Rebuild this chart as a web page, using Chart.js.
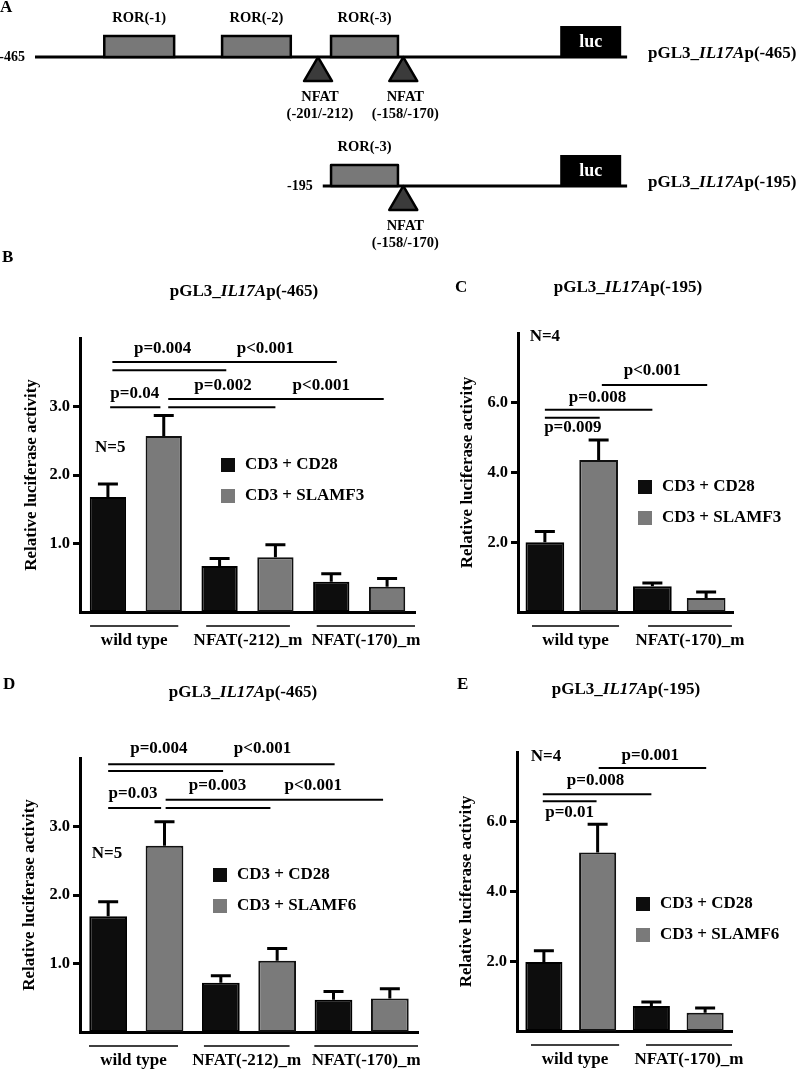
<!DOCTYPE html>
<html lang="en">
<head>
  <meta charset="UTF-8" />
  <title>IL17A promoter luciferase assays</title>
  <script src="https://cdn.jsdelivr.net/npm/chart.js"></script>
  <style>
    body { margin: 0; background: #fff; }
    #fig { position: relative; width: 800px; height: 1071px; overflow: hidden; background: #fff; }
    #fig canvas { position: absolute; }
  </style>
</head>
<body>
  <div id="fig">
    <canvas id="chartA" width="800" height="255" style="left:0;top:0"></canvas>
    <canvas id="chartB" width="420" height="420" style="left:0;top:250px"></canvas>
    <canvas id="chartC" width="380" height="420" style="left:420px;top:250px"></canvas>
    <canvas id="chartD" width="420" height="401" style="left:0;top:670px"></canvas>
    <canvas id="chartE" width="380" height="401" style="left:420px;top:670px"></canvas>
  </div>

  <script>
    // ---- panel A: promoter schematic (positions in schematic units, 0 = -465 end, 100 = vector end)
    const constructs = ["pGL3_IL17Ap(-465)", "pGL3_IL17Ap(-195)"];
    const constructStart = [0, 48.6];
    const constructStartLabel = ["-465", "-195"];
    const vectorEnd = 100;
    const rorNames = ["ROR(-1)", "ROR(-2)", "ROR(-3)"];
    const rorFrom = [11.7, 31.6, 50.0];
    const rorTo = [23.5, 43.2, 61.3];
    const nfatNames = ["(-201/-212)", "(-158/-170)"];
    const nfatAt = [47.8, 62.2];
    const lucFrom = 88.7, lucTo = 99;

    // ---- panels B-E: luciferase activity
    const groups465 = ["wild type", "NFAT(-212)_m", "NFAT(-170)_m"];
    const groups195 = ["wild type", "NFAT(-170)_m"];
    const namesF3 = ["CD3 + CD28", "CD3 + SLAMF3"];
    const namesF6 = ["CD3 + CD28", "CD3 + SLAMF6"];

    const bCd28 = [1.68, 0.67, 0.44];
    const bCd28Err = [1.87, 0.78, 0.56];
    const bSlamf3 = [2.57, 0.80, 0.37];
    const bSlamf3Err = [2.87, 0.98, 0.49];

    const cCd28 = [2.00, 0.74];
    const cCd28Err = [2.31, 0.83];
    const cSlamf3 = [4.36, 0.40];
    const cSlamf3Err = [4.93, 0.57];

    const dCd28 = [1.69, 0.72, 0.47];
    const dCd28Err = [1.90, 0.82, 0.59];
    const dSlamf6 = [2.72, 1.04, 0.49];
    const dSlamf6Err = [3.07, 1.22, 0.63];

    const eCd28 = [1.98, 0.72];
    const eCd28Err = [2.30, 0.83];
    const eSlamf6 = [5.12, 0.52];
    const eSlamf6Err = [5.93, 0.66];

    const ticks465 = [1, 2, 3];
    const ticks195 = [2, 4, 6];

    const SERIF = '"Liberation Serif", "Times New Roman", serif';
    const font = (ctx, size, italic) => { ctx.font = (italic ? 'italic ' : '') + 'bold ' + size + 'px ' + SERIF; };

    // "pGL3_IL17Ap(-465)" with the gene name in italics
    function drawConstruct(ctx, name, x, y, size, align) {
      const m = name.match(/^(pGL3_)(IL17A)(.*)$/);
      const parts = [[m[1], false], [m[2], true], [m[3], false]];
      let w = 0;
      parts.forEach(p => { font(ctx, size, p[1]); w += ctx.measureText(p[0]).width; });
      let cx = align === 'center' ? x - w / 2 : x;
      ctx.textAlign = 'left';
      ctx.textBaseline = 'middle';
      parts.forEach(p => {
        font(ctx, size, p[1]);
        ctx.fillText(p[0], cx, y);
        cx += ctx.measureText(p[0]).width;
      });
    }

    const schematic = {
      id: 'schematic',
      afterDatasetsDraw(chart) {
        const { ctx, scales: { x, y } } = chart;
        ctx.save();
        ctx.fillStyle = '#000';
        font(ctx, 17);
        ctx.textAlign = 'left';
        ctx.textBaseline = 'middle';
        ctx.fillText('A', 0, 8);

        constructs.forEach((name, r) => {
          const y0 = y.getPixelForValue(r);
          const x0 = x.getPixelForValue(constructStart[r]);
          const x1 = x.getPixelForValue(vectorEnd);

          ctx.fillStyle = '#000';
          font(ctx, 14);
          ctx.textAlign = 'right';
          ctx.fillText(constructStartLabel[r], x0 - 10, y0);

          rorNames.forEach((ror, i) => {
            if (rorFrom[i] < constructStart[r]) return;
            const a = x.getPixelForValue(rorFrom[i]);
            const b = x.getPixelForValue(rorTo[i]);
            ctx.fillStyle = '#787878';
            ctx.fillRect(a, y0 - 21, b - a, 21);
            ctx.strokeStyle = '#000';
            ctx.lineWidth = 2.5;
            ctx.strokeRect(a, y0 - 21, b - a, 21);
            ctx.fillStyle = '#000';
            font(ctx, 14.5);
            ctx.textAlign = 'center';
            ctx.fillText(ror, (a + b) / 2, y0 - 39);
          });

          nfatNames.forEach((nf, i) => {
            if (nfatAt[i] < constructStart[r]) return;
            const c = x.getPixelForValue(nfatAt[i]);
            ctx.beginPath();
            ctx.moveTo(c, y0);
            ctx.lineTo(c + 14, y0 + 24);
            ctx.lineTo(c - 14, y0 + 24);
            ctx.closePath();
            ctx.fillStyle = '#3b3b3b';
            ctx.fill();
            ctx.strokeStyle = '#000';
            ctx.lineWidth = 2.5;
            ctx.lineJoin = 'round';
            ctx.stroke();
            ctx.fillStyle = '#000';
            font(ctx, 14.5);
            ctx.textAlign = 'center';
            ctx.fillText('NFAT', c + 2, y0 + 40);
            ctx.fillText(nf, c + 2, y0 + 57);
          });

          const la = x.getPixelForValue(lucFrom);
          const lb = x.getPixelForValue(lucTo);
          ctx.fillStyle = '#000';
          ctx.fillRect(la, y0 - 31, lb - la, 32);
          ctx.fillStyle = '#fff';
          font(ctx, 18);
          ctx.textAlign = 'center';
          ctx.fillText('luc', (la + lb) / 2, y0 - 15);

          ctx.fillStyle = '#000';
          drawConstruct(ctx, name, x1 + 21, y0 - 3, 17, 'left');
        });
        ctx.restore();
      }
    };

    new Chart(document.getElementById('chartA'), {
      type: 'scatter',
      data: {
        datasets: constructs.map((c, r) => ({
          type: 'line',
          label: c,
          data: [{ x: constructStart[r], y: r }, { x: vectorEnd, y: r }],
          borderColor: '#000',
          borderWidth: 3,
          borderCapStyle: 'butt',
          pointRadius: 0,
          showLine: true
        }))
      },
      options: {
        responsive: false,
        animation: false,
        layout: { padding: 0 },
        plugins: { legend: { display: false }, tooltip: { enabled: false } },
        scales: {
          x: { type: 'linear', display: false, min: -5.91, max: 129.2 },
          y: { type: 'linear', display: false, reverse: true, min: -0.442, max: 1.535 }
        }
      },
      plugins: [schematic]
    });

    // overlay for the bar panels: error bars, brackets, legend, labels
    function overlay(o) {
      return {
        id: 'overlay',
        afterDatasetsDraw(chart) {
          const { ctx, scales: { x, y } } = chart;
          ctx.save();
          ctx.strokeStyle = '#000';
          ctx.lineWidth = 3;
          chart.data.datasets.forEach((ds, di) => {
            chart.getDatasetMeta(di).data.forEach((bar, j) => {
              const top = y.getPixelForValue(ds.err[j]);
              ctx.beginPath();
              ctx.moveTo(bar.x, bar.y);
              ctx.lineTo(bar.x, top);
              ctx.moveTo(bar.x - 10, top);
              ctx.lineTo(bar.x + 10, top);
              ctx.stroke();
            });
          });
          ctx.restore();
        },
        afterDraw(chart) {
          const { ctx, chartArea: area, scales: { x, y } } = chart;
          const c0 = x.getPixelForValue(0);
          const cw = x.getPixelForValue(1) - c0;
          const px = u => c0 + u * cw;
          ctx.save();
          ctx.fillStyle = '#000';
          ctx.strokeStyle = '#000';

          font(ctx, 17);
          ctx.textAlign = 'left';
          ctx.textBaseline = 'middle';
          ctx.fillText(o.letter, o.letterAt[0], o.letterAt[1]);
          drawConstruct(ctx, o.construct, o.titleAt[0], o.titleAt[1], 17, 'center');

          ctx.save();
          ctx.translate(o.yTitleX, (area.top + area.bottom) / 2);
          ctx.rotate(-Math.PI / 2);
          font(ctx, 17);
          ctx.textAlign = 'center';
          ctx.fillText('Relative luciferase activity', 0, 0);
          ctx.restore();

          // significance brackets: [x1, x2, y, label, labelX, labelY]
          ctx.lineWidth = 2;
          o.sig.forEach(s => {
            const yy = y.getPixelForValue(s[2]);
            ctx.beginPath();
            ctx.moveTo(px(s[0]), yy);
            ctx.lineTo(px(s[1]), yy);
            ctx.stroke();
            font(ctx, 17);
            ctx.textAlign = 'center';
            ctx.fillText(s[3], px(s[4]), y.getPixelForValue(s[5]));
          });

          font(ctx, 17);
          ctx.textAlign = 'center';
          ctx.fillText(o.n[0], px(o.n[1]), y.getPixelForValue(o.n[2]));

          // legend
          const [lx, ly] = o.legendAt;
          chart.data.datasets.forEach((ds, i) => {
            ctx.fillStyle = ds.backgroundColor;
            ctx.fillRect(lx, ly + i * 31, 14, 14);
            ctx.fillStyle = '#000';
            font(ctx, 17);
            ctx.textAlign = 'left';
            ctx.fillText(ds.label, lx + 24, ly + 7 + i * 31);
          });

          // group labels with overlines
          ctx.lineWidth = 1.5;
          chart.data.labels.forEach((g, i) => {
            const a = px(i + o.under[i][0]);
            const b = px(i + o.under[i][1]);
            ctx.beginPath();
            ctx.moveTo(a, area.bottom + 14);
            ctx.lineTo(b, area.bottom + 14);
            ctx.stroke();
            font(ctx, 17);
            ctx.textAlign = 'center';
            ctx.fillText(g, (a + b) / 2, area.bottom + 29);
          });
          ctx.restore();
        }
      };
    }

    function barPanel(id, o) {
      return new Chart(document.getElementById(id), {
        type: 'bar',
        data: {
          labels: o.groups,
          datasets: [
            { label: o.names[0], data: o.v1, err: o.e1, backgroundColor: '#0d0d0d', borderColor: '#000',
              borderWidth: 2, borderSkipped: false, barPercentage: o.bp, categoryPercentage: 1 },
            { label: o.names[1], data: o.v2, err: o.e2, backgroundColor: '#7a7a7a', borderColor: '#111',
              borderWidth: 2, borderSkipped: false, barPercentage: o.bp, categoryPercentage: 1 }
          ]
        },
        options: {
          responsive: false,
          animation: false,
          layout: { padding: { top: o.padTop, right: o.padRight, left: 0, bottom: 0 } },
          plugins: { legend: { display: false }, tooltip: { enabled: false } },
          scales: {
            x: {
              grid: { display: false },
              ticks: { display: false },
              border: { color: '#000', width: 3 },
              afterFit: s => { s.height = o.xh; }
            },
            y: {
              min: 0,
              max: o.ymax,
              afterBuildTicks: s => { s.ticks = o.ticks.map(v => ({ value: v })); },
              ticks: {
                callback: v => v.toFixed(1),
                color: '#000',
                padding: 3,
                font: { family: SERIF, weight: 'bold', size: 16.5 }
              },
              grid: { drawOnChartArea: false, color: '#000', lineWidth: 3, tickLength: 7 },
              border: { color: '#000', width: 3 },
              afterFit: s => { s.width = o.yw; }
            }
          }
        },
        plugins: [overlay(o)]
      });
    }

    barPanel('chartB', {
      letter: 'B', construct: constructs[0], groups: groups465, names: namesF3,
      v1: bCd28, e1: bCd28Err, v2: bSlamf3, e2: bSlamf3Err, ticks: ticks465, ymax: 4,
      sig: [
        [-0.21, 1.80, 3.65, 'p<0.001', 1.16, 3.84],
        [-0.21, 0.81, 3.53, 'p=0.004', 0.24, 3.84],
        [0.29, 2.22, 3.11, 'p<0.001', 1.66, 3.30],
        [0.29, 1.25, 2.99, 'p=0.002', 0.78, 3.30],
        [-0.23, 0.22, 2.99, 'p=0.04', -0.01, 3.19]
      ],
      n: ['N=5', -0.23, 2.4],
      under: [[-0.41, 0.38], [-0.37, 0.38], [-0.38, 0.5]],
      bp: 0.65, yw: 80, xh: 58, padTop: 88, padRight: 5,
      titleAt: [244, 42], letterAt: [2, 8], yTitleX: 32, legendAt: [221, 208]
    });

    barPanel('chartC', {
      letter: 'C', construct: constructs[1], groups: groups195, names: namesF3,
      v1: cCd28, e1: cCd28Err, v2: cSlamf3, e2: cSlamf3Err, ticks: ticks195, ymax: 8,
      sig: [
        [0.28, 1.26, 6.51, 'p<0.001', 0.75, 6.91],
        [-0.25, 0.75, 5.80, 'p=0.008', 0.24, 6.14],
        [-0.25, 0.26, 5.57, 'p=0.009', 0.01, 5.29]
      ],
      n: ['N=4', -0.25, 7.9],
      under: [[-0.37, 0.44], [-0.29, 0.49]],
      bp: 0.72, yw: 98, xh: 58, padTop: 83, padRight: 67,
      titleAt: [208, 38], letterAt: [35, 38], yTitleX: 48, legendAt: [218, 230]
    });

    barPanel('chartD', {
      letter: 'D', construct: constructs[0], groups: groups465, names: namesF6,
      v1: dCd28, e1: dCd28Err, v2: dSlamf6, e2: dSlamf6Err, ticks: ticks465, ymax: 4,
      sig: [
        [-0.25, 1.76, 3.91, 'p<0.001', 1.12, 4.13],
        [-0.25, 0.77, 3.81, 'p=0.004', 0.20, 4.13],
        [0.26, 2.19, 3.39, 'p<0.001', 1.57, 3.59],
        [0.26, 1.19, 3.27, 'p=0.003', 0.72, 3.59],
        [-0.25, 0.22, 3.27, 'p=0.03', -0.03, 3.48]
      ],
      n: ['N=5', -0.26, 2.61],
      under: [[-0.42, 0.37], [-0.4, 0.36], [-0.42, 0.5]],
      bp: 0.67, yw: 80, xh: 39, padTop: 88, padRight: 2,
      titleAt: [243, 23], letterAt: [3, 15], yTitleX: 30, legendAt: [213, 198]
    });

    barPanel('chartE', {
      letter: 'E', construct: constructs[1], groups: groups195, names: namesF6,
      v1: eCd28, e1: eCd28Err, v2: eSlamf6, e2: eSlamf6Err, ticks: ticks195, ymax: 8,
      sig: [
        [0.26, 1.26, 7.54, 'p=0.001', 0.74, 7.91],
        [-0.26, 0.75, 6.79, 'p=0.008', 0.23, 7.17],
        [-0.26, 0.24, 6.59, 'p=0.01', -0.01, 6.27]
      ],
      n: ['N=4', -0.23, 7.88],
      under: [[-0.37, 0.45], [-0.3, 0.5]],
      bp: 0.69, yw: 97, xh: 40, padTop: 82, padRight: 68,
      titleAt: [206, 20], letterAt: [37, 15], yTitleX: 47, legendAt: [216, 227]
    });
  </script>
</body>
</html>
